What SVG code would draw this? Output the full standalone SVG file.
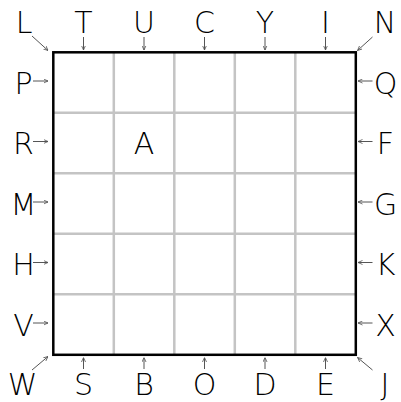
<svg xmlns="http://www.w3.org/2000/svg" width="401" height="402" viewBox="0 0 401 402">
<style>
text{font-family:"DejaVu Sans ExtraLight","DejaVu Sans",sans-serif;font-weight:200;font-size:30px;fill:#000;text-anchor:middle}
.g{stroke:#c4c4c4;stroke-width:2.5;fill:none}
.b{stroke:#000;stroke-width:2.5;fill:none}
.a{stroke:#555;stroke-width:1;fill:none;marker-end:url(#ah)}
</style>
<defs>
<marker id="ah" viewBox="0 0 10 10" refX="10" refY="5" markerWidth="4.5" markerHeight="5" orient="auto" markerUnits="userSpaceOnUse">
<path d="M0,0.5 L10,5 L0,9.5" fill="none" stroke="#555" stroke-width="1.8"/>
</marker>
</defs>
<rect width="401" height="402" fill="#fff"/>
<g id="grid">
<path class="g" d="M113.8,52.3V354.8M174.3,52.3V354.8M234.8,52.3V354.8M295.3,52.3V354.8M53.3,112.8H355.8M53.3,173.3H355.8M53.3,233.8H355.8M53.3,294.3H355.8"/>
<rect class="b" x="53.3" y="52.3" width="302.5" height="302.5"/>
</g>
<g id="connectors">
<path class="a" d="M32,36L48,50.5"/>
<path class="a" d="M372.5,37L357.5,50.5"/>
<path class="a" d="M32,370L48,356.5"/>
<path class="a" d="M372.5,370L357.5,357.5"/>
<path class="a" d="M83.5,37V50"/>
<path class="a" d="M144,37V50"/>
<path class="a" d="M204.5,37V50"/>
<path class="a" d="M265,37V50"/>
<path class="a" d="M325.5,37V50"/>
<path class="a" d="M83.5,369V357.5"/>
<path class="a" d="M144,369V357.5"/>
<path class="a" d="M204.5,369V357.5"/>
<path class="a" d="M265,369V357.5"/>
<path class="a" d="M325.5,369V357.5"/>
<path class="a" d="M33,81H48"/>
<path class="a" d="M33,141.5H48"/>
<path class="a" d="M33,202H48"/>
<path class="a" d="M33,262.5H48"/>
<path class="a" d="M33,323H48"/>
<path class="a" d="M372.5,81H358"/>
<path class="a" d="M372.5,141.5H358"/>
<path class="a" d="M372.5,202H358"/>
<path class="a" d="M372.5,262.5H358"/>
<path class="a" d="M372.5,323H358"/>
</g>
<g id="L"><text x="24" y="33.3">L</text></g>
<g id="T"><text x="83.5" y="33.3">T</text></g>
<g id="U"><text x="144" y="33.3">U</text></g>
<g id="C"><text x="204.5" y="33.3">C</text></g>
<g id="Y"><text x="265" y="33.3">Y</text></g>
<g id="I"><text x="325.5" y="33.3">I</text></g>
<g id="N"><text x="385" y="33.3">N</text></g>
<g id="P"><text x="23.5" y="93.8">P</text></g>
<g id="R"><text x="23.5" y="154.3">R</text></g>
<g id="M"><text x="23.5" y="214.8">M</text></g>
<g id="H"><text x="23.5" y="275.3">H</text></g>
<g id="V"><text x="23.5" y="335.8">V</text></g>
<g id="Q"><text x="385.5" y="93.8">Q</text></g>
<g id="F"><text x="385.5" y="154.3">F</text></g>
<g id="G"><text x="385.5" y="214.8">G</text></g>
<g id="K"><text x="385.5" y="275.3">K</text></g>
<g id="X"><text x="385.5" y="335.8">X</text></g>
<g id="W"><text x="22.5" y="395">W</text></g>
<g id="S"><text x="83.5" y="395">S</text></g>
<g id="B"><text x="144" y="395">B</text></g>
<g id="O"><text x="204.5" y="395">O</text></g>
<g id="D"><text x="265" y="395">D</text></g>
<g id="E"><text x="325.5" y="395">E</text></g>
<g id="J"><text x="385" y="395">J</text></g>
<g id="A"><text x="144" y="153.8">A</text></g>
</svg>
